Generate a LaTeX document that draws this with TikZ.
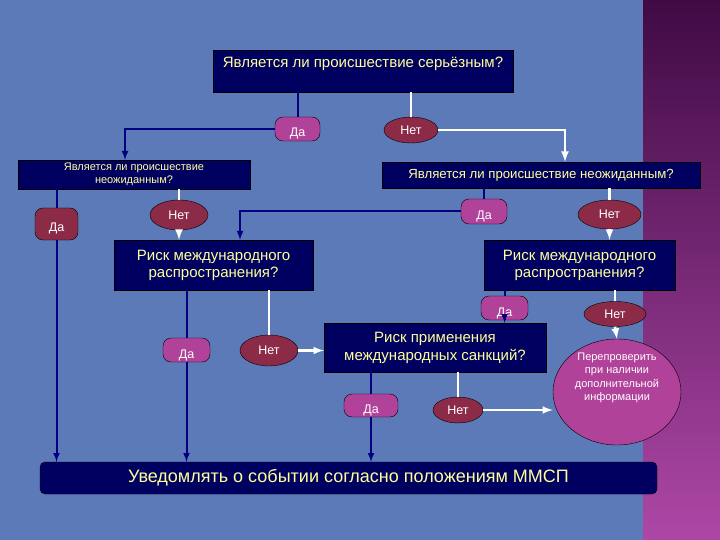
\documentclass[tikz,border=0pt]{standalone}
\usepackage{fontspec}
\setmainfont{Liberation Sans}
\usetikzlibrary{arrows,calc,shapes.geometric}
\definecolor{BackClr}{rgb}{0.36,0.48,0.72}
\definecolor{BoxClr}{rgb}{0,0,0.38}
\definecolor{TextClr}{rgb}{1,1,0.6}
\definecolor{LineClr}{rgb}{0,0,0.5}
\definecolor{YesClr}{rgb}{0.69,0.26,0.6}
\definecolor{NoClr}{rgb}{0.55,0.17,0.28}
\definecolor{StripTop}{rgb}{0.25,0.04,0.27}
\definecolor{StripBot}{rgb}{0.68,0.28,0.65}

\begin{document}
\begin{tikzpicture}[x=1pt,y=-1pt,
  qbox/.style={draw=black,line width=.4pt,fill=BoxClr,text=TextClr,inner sep=0pt,align=center},
  yesbox/.style={draw=black,line width=.4pt,fill=YesClr,rounded corners=8pt,text=white,inner sep=0pt,
    text height=16pt,text depth=0pt,font=\fontsize{12.5}{12.5}\selectfont},
  nobox/.style={ellipse,draw=black,line width=.4pt,fill=NoClr,text=white,inner sep=0pt,
    font=\fontsize{12.5}{12.5}\selectfont},
  yesline/.style={draw=LineClr,line width=2pt},
  noline/.style={draw=white,line width=2.5pt},
  >=latex]
\useasboundingbox (0,0) rectangle (720,540);
\fill[BackClr] (0,0) rectangle (643,540);
\shade[top color=StripTop,bottom color=StripBot] (643,0) rectangle (720,540);

% questions
\node[qbox,minimum width=300pt,minimum height=42pt,text height=10pt,text depth=16pt,
  font=\fontsize{15}{15}\selectfont] (q1) at (363,71) {Является ли происшествие серьёзным?};
\node[qbox,minimum width=232pt,minimum height=29pt,font=\fontsize{11}{13.5}\selectfont]
  (q2l) at (134,174.5) {Является ли происшествие\\неожиданным?};
\node[qbox,minimum width=318pt,minimum height=26pt,font=\fontsize{13.2}{14}\selectfont]
  (q2r) at (541,175) {Является ли происшествие неожиданным?};
\node[qbox,minimum width=199pt,minimum height=50pt,font=\fontsize{15}{17}\selectfont]
  (risk1) at (213.5,265) {Риск международного\\распространения?};
\node[qbox,minimum width=191pt,minimum height=50pt,font=\fontsize{15}{17}\selectfont]
  (risk2) at (579.5,265) {Риск международного\\распространения?};
\node[qbox,minimum width=222pt,minimum height=49pt,font=\fontsize{15}{18}\selectfont]
  (risk3) at (435,347.5) {Риск применения\\международных санкций?};
\node[qbox,rounded corners=5pt,minimum width=617pt,minimum height=32pt,font=\fontsize{18}{18}\selectfont]
  (bot) at (348.5,478) {Уведомлять о событии согласно положениям ММСП};

% answers
\node[yesbox,minimum width=45pt,minimum height=24pt] (da1) at (297.5,129) {Да};
\node[nobox,minimum width=54pt,minimum height=26pt] (net1) at (411,130) {Нет};
\node[yesbox,fill=NoClr,minimum width=43pt,minimum height=32pt] (da2) at (56.5,224) {Да};
\node[nobox,minimum width=58pt,minimum height=30pt] (net2) at (179,215) {Нет};
\node[yesbox,minimum width=46pt,minimum height=25pt] (da3) at (484,211.5) {Да};
\node[nobox,minimum width=63pt,minimum height=29pt] (net3) at (609.5,214.5) {Нет};
\node[yesbox,minimum width=47pt,minimum height=24pt] (da4) at (186.5,350) {Да};
\node[nobox,minimum width=58pt,minimum height=31pt] (net4) at (269,350.5) {Нет};
\node[yesbox,minimum width=47pt,minimum height=24pt] (da5) at (504.5,308) {Да};
\node[nobox,minimum width=62pt,minimum height=25pt] (net5) at (615,314) {Нет};
\node[yesbox,minimum width=54pt,minimum height=23pt] (da6) at (371,405.5) {Да};
\node[nobox,minimum width=50pt,minimum height=26pt] (net6) at (458,410) {Нет};
\node[ellipse,draw=black,line width=.4pt,fill=YesClr,minimum width=128pt,minimum height=106pt]
  (circ) at (617,392) {};
\node[text=white,align=center,font=\fontsize{11}{13.5}\selectfont] (circtext) at ($(circ.center)+(0,-14)$)
  {Перепроверить\\при наличии\\дополнительной\\информации};

% connectors
\draw[yesline] (q1.south -| da1.north) -- (da1.north);
\draw[yesline,->] (da1.west) -| ($(q2l.north)+(-9,0)$);
\draw[noline] (q1.south -| net1.north) -- (net1.north);
\draw[noline,->] (net1.east) -| ($(q2r.north)+(24,0)$);
\draw[yesline] (q2l.south -| da2.north) -- (da2.north);
\draw[yesline,->] (da2.south) -- (da2.south |- bot.north);
\draw[noline] (q2l.south -| net2.north) -- (net2.north);
\draw[noline,->] (net2.south) -- (net2.south |- risk1.north);
\draw[yesline] (q2r.south -| da3.north) -- (da3.north);
\draw[yesline,->] (da3.west) -| ($(risk1.north)+(26.5,0)$);
\draw[noline] (q2r.south -| net3.north) -- (net3.north);
\draw[noline,->] (net3.south) -- (net3.south |- risk2.north);
\draw[yesline] (risk1.south -| da4.north) -- (da4.north);
\draw[yesline,->] (da4.south) -- (da4.south |- bot.north);
\draw[noline] (risk1.south -| net4.north) -- (net4.north);
\draw[noline,->] (net4.east) -- (net4.east -| risk3.west);
\draw[yesline] (risk2.south -| da5.north) -- (da5.north);
\draw[yesline,->] (da5.south) -- (da5.south |- risk3.north);
\draw[noline] (risk2.south -| net5.north) -- (net5.north);
\draw[noline,->] (net5.south) -- (circ.north);
\draw[yesline] (risk3.south -| da6.north) -- (da6.north);
\draw[yesline,->] (da6.south) -- (da6.south |- bot.north);
\draw[noline] (risk3.south -| net6.north) -- (net6.north);
\draw[noline,->] (net6.east) -- (net6.east -| circ.west);
\end{tikzpicture}
\end{document}
